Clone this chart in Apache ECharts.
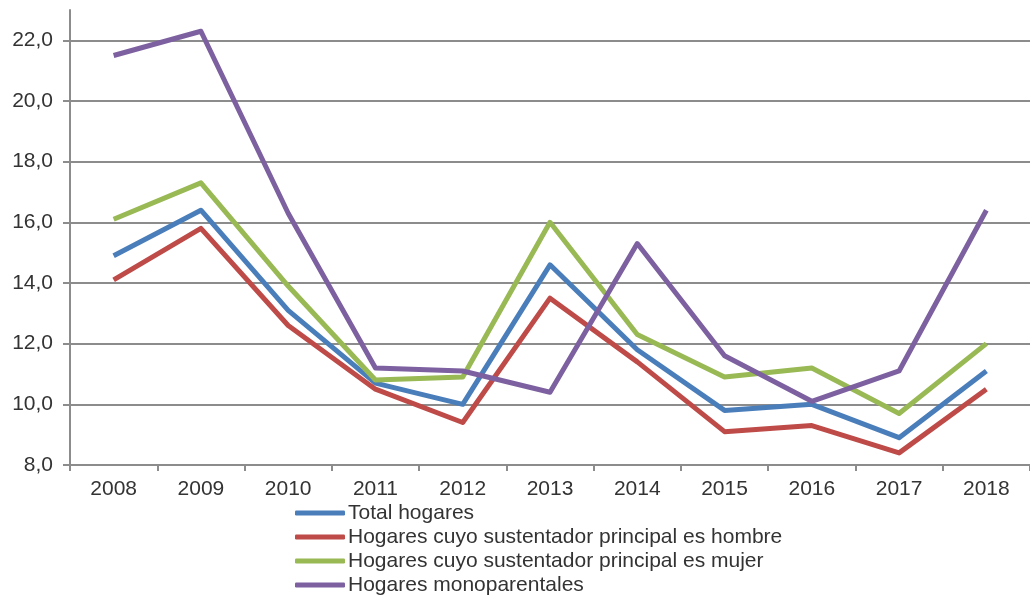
<!DOCTYPE html>
<html>
<head>
<meta charset="utf-8">
<script src="https://cdn.jsdelivr.net/npm/echarts@6/dist/echarts.min.js"></script>
<style>
  html, body { margin: 0; padding: 0; background: #fff; }
  #eCharts { width: 1030px; height: 601px; }
</style>
</head>
<body>
<div id="eCharts"></div>
<script>
// datos
var years = ['2008', '2009', '2010', '2011', '2012', '2013', '2014', '2015', '2016', '2017', '2018'];
var yTicks = [8, 10, 12, 14, 16, 18, 20, 22];

var totalHogares = [14.9, 16.4, 13.1, 10.7, 10.0, 14.6, 11.8, 9.8, 10.0, 8.9, 11.1];
var hombre = [14.1, 15.8, 12.6, 10.5, 9.4, 13.5, 11.4, 9.1, 9.3, 8.4, 10.5];
var mujer = [16.1, 17.3, 13.9, 10.8, 10.9, 16.0, 12.3, 10.9, 11.2, 9.7, 12.0];
var monoparentales = [21.5, 22.3, 16.3, 11.2, 11.1, 10.4, 15.3, 11.6, 10.1, 11.1, 16.4];

var seriesNames = [
    'Total hogares',
    'Hogares cuyo sustentador principal es hombre',
    'Hogares cuyo sustentador principal es mujer',
    'Hogares monoparentales'
];
var colors = ['#4a7ebb', '#be4b48', '#98b954', '#7d60a0'];

var myChart = echarts.init(document.getElementById('eCharts'));

var font = '"Liberation Sans", Arial, sans-serif';
var axisGray = '#8c8c8c';

function makeLine(name, data, color) {
    return {
        name: name,
        type: 'line',
        data: data,
        symbol: 'none',
        color: color,
        lineStyle: {width: 5, color: color, join: 'round'},
        animation: false
    };
}

var option = {
    animation: false,
    textStyle: {fontFamily: font},
    grid: {
        left: 70,
        top: 10,
        width: 970,
        height: 455
    },
    legend: {
        orient: 'vertical',
        left: 295,
        top: 501,
        padding: 0,
        itemGap: 0,
        itemWidth: 50,
        itemHeight: 5,
        icon: 'roundRect',
        data: seriesNames,
        textStyle: {
            fontFamily: font,
            fontSize: 21,
            lineHeight: 24,
            color: '#333',
            padding: [0, 0, 0, -2]
        }
    },
    xAxis: {
        type: 'category',
        data: years,
        boundaryGap: true,
        axisLine: {lineStyle: {color: axisGray, width: 2}},
        axisTick: {show: true, length: 6, lineStyle: {color: axisGray, width: 2}},
        axisLabel: {
            margin: 14,
            fontSize: 21,
            color: '#333',
            fontFamily: font
        },
        splitLine: {show: false}
    },
    yAxis: {
        type: 'value',
        min: 8,
        max: 23,
        interval: 2,
        axisLine: {show: true, lineStyle: {color: axisGray, width: 2}},
        axisTick: {
            show: true,
            length: 7,
            customValues: yTicks,
            lineStyle: {color: axisGray, width: 2}
        },
        axisLabel: {
            customValues: yTicks,
            margin: 17,
            fontSize: 21,
            color: '#333',
            fontFamily: font,
            formatter: function (v) {
                return v.toFixed(1).replace('.', ',');
            }
        },
        splitLine: {show: true, lineStyle: {color: axisGray, width: 2}}
    },
    series: [
        makeLine(seriesNames[0], totalHogares, colors[0]),
        makeLine(seriesNames[1], hombre, colors[1]),
        makeLine(seriesNames[2], mujer, colors[2]),
        makeLine(seriesNames[3], monoparentales, colors[3])
    ]
};

myChart.setOption(option);
</script>
</body>
</html>
